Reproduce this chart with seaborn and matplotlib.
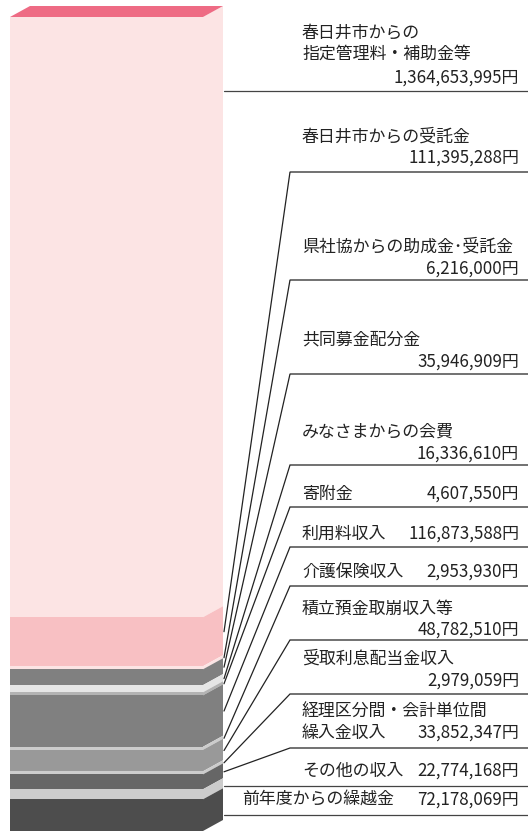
import numpy as np
import pandas as pd
import matplotlib
matplotlib.use("Agg")
import matplotlib.pyplot as plt
from matplotlib.patches import Polygon
import seaborn as sns

## Daten (von oben nach unten)
categories = ["春日井市からの\n指定管理料・補助金等", "春日井市からの受託金", "県社協からの助成金･受託金",
              "共同募金配分金", "みなさまからの会費", "寄附金", "利用料収入", "介護保険収入",
              "積立預金取崩収入等", "受取利息配当金収入", "経理区分間・会計単位間\n繰入金収入",
              "その他の収入", "前年度からの繰越金"]
values = [1364653995, 111395288, 6216000, 35946909, 16336610, 4607550, 116873588,
          2953930, 48782510, 2979059, 33852347, 22774168, 72178069]
colors = ["#FCE4E4", "#F8C0C3", "#FCE4E4", "#808080", "#E6E6E6", "#B3B3B3", "#808080",
          "#CCCCCC", "#999999", "#CCCCCC", "#666666", "#CCCCCC", "#4D4D4D"]

df = pd.DataFrame({"item": categories, "value": values, "color": colors})
# kleine Posten etwas sichtbar machen
df["shown"] = np.maximum(df["value"], 7e6)
df["top"] = df["shown"][::-1].cumsum()[::-1]
df["bottom"] = df["top"] - df["shown"]
total = df["top"].iloc[0]

## Layout (Bildpixel): Name-y, Wert-y, Linie-y, Leader?, Text-x
layout = [
    (33, 78, 91, False, 302),
    (137, 158, 172, True, 302),
    (247, 269, 280, True, 302),
    (339, 362, 374, True, 302),
    (432, 454, 465, True, 302),
    (494, 494, 507, True, 302),
    (534, 534, 547, True, 302),
    (572, 572, 586, True, 302),
    (609, 630, 640, True, 302),
    (659, 681, 694, True, 302),
    (712, 733, 748, True, 302),
    (771, 771, 786, False, 302),
    (800, 800, 815, False, 242),
]

W, H = 528, 831
sns.set_theme(style="white")
plt.rcParams["font.family"] = ["Noto Sans CJK JP", "DejaVu Sans"]

fig = plt.figure(figsize=(W / 100, H / 100), dpi=100)
ax = fig.add_axes([0, 0, 1, 1])

# gestapelter Balken: von oben nach unten übermalen
for i in range(len(df)):
    sns.barplot(x=[0], y=[df["top"].iloc[i]], color=df["color"].iloc[i], width=1.0,
                saturation=1, linewidth=0, ax=ax)

px = 193.0
ax.set_xlim(-0.5 - 10 / px, 0.5 + (W - 203) / px)
ax.set_ylim(0, total * H / (H - 17))
ax.axis("off")

ov = fig.add_axes([0, 0, 1, 1])
ov.set_xlim(0, W)
ov.set_ylim(H, 0)
ov.axis("off")
ov.patch.set_alpha(0)


def to_px(v):
    d = ax.transData.transform((0, v))
    return ov.transData.inverted().transform(d)[1]


x_front, dx, dy = 203, 20, 11
# Seitenflächen
for i in range(len(df)):
    yt, yb = to_px(df["top"].iloc[i]), to_px(df["bottom"].iloc[i])
    ov.add_patch(Polygon([(x_front, yb), (x_front + dx, yb - dy), (x_front + dx, yt - dy),
                          (x_front, yt)], closed=True, fc=df["color"].iloc[i], ec="none"))
# Deckfläche
ytop = to_px(total)
ov.add_patch(Polygon([(10, ytop), (x_front, ytop), (x_front + dx, ytop - dy), (10 + dx, ytop - dy)],
                     closed=True, fc="#EE6B84", ec="none"))

txt = dict(fontsize=12.2, color="#222222", va="center")
for i, (name, val) in enumerate(zip(df["item"], df["value"])):
    ny, vy, ly, leader, tx = layout[i]
    lines = name.split("\n")
    for k, ln in enumerate(lines):
        ov.text(tx, ny + k * 21, ln, ha="left", **txt)
    ov.text(519, vy, f"{val:,}円", ha="right", **txt)
    if leader:
        mid = to_px((df["top"].iloc[i] + df["bottom"].iloc[i]) / 2) - dy + 1
        ov.plot([W, 290, x_front + dx + 1], [ly, ly, mid], color="#222222", lw=0.9,
                solid_joinstyle="miter")
    else:
        ov.plot([x_front + dx + 1, W], [ly, ly], color="#444444", lw=0.9)

fig.savefig("out.png", dpi=100)
